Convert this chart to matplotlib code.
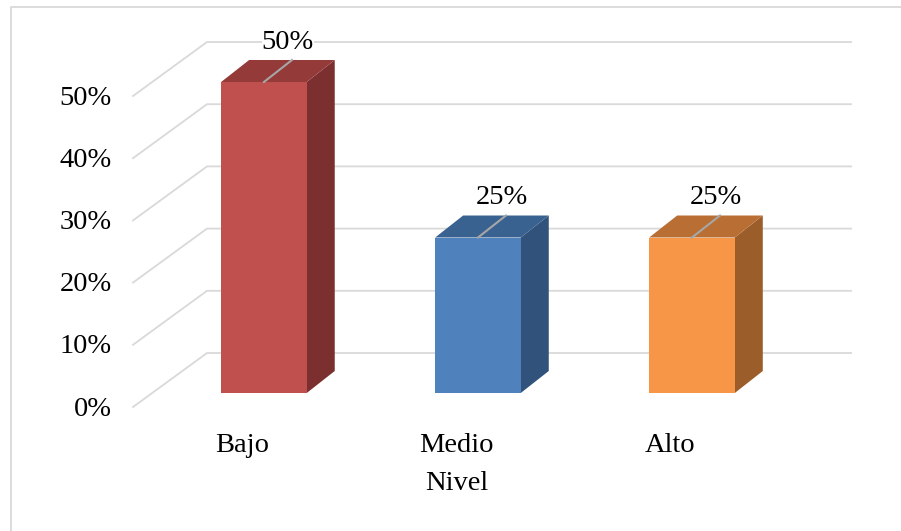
import matplotlib.pyplot as plt
import matplotlib.transforms as mtransforms
from matplotlib.patches import Polygon

# datos
categorias = ["Bajo", "Medio", "Alto"]
valores = [0.50, 0.25, 0.25]
ticks = [0.0, 0.1, 0.2, 0.3, 0.4, 0.5]
etiquetas_y = ["0%", "10%", "20%", "30%", "40%", "50%"]
etiquetas_barras = ["50%", "25%", "25%"]

frente = ["#c0504d", "#4f81bd", "#f79646"]
arriba = ["#943a38", "#3a6291", "#b96f34"]
lado = ["#7b302f", "#31527a", "#9b5d2a"]

plt.rcParams['font.family'] = ['Liberation Serif', 'DejaVu Serif']
fs = 20.5

W, H = 901, 531
fig = plt.figure(figsize=(W / 100, H / 100), dpi=100)

# plano frontal de las barras (en pixeles de la imagen)
left, right, bottom, top = 152, 796, 393, 82
ax = fig.add_axes([left / W, (H - bottom) / H, (right - left) / W, (bottom - top) / H])
ax.set_xlim(-0.523, 2.486)
ax.set_ylim(0, 0.5)
ax.axis("off")

xmin, xmax = ax.get_xlim()


def off(dx, dy):
    # desplazamiento en pixeles (dy hacia arriba)
    return mtransforms.offset_copy(ax.transData, fig=fig, x=dx, y=dy, units='dots')


t_front = off(-19, -14)
t_back = off(55, 40)

# rejilla: diagonal del suelo/pared + linea horizontal en la pared trasera
for v in ticks:
    p0 = t_front.transform((xmin, v))
    p1 = t_back.transform((xmin, v))
    p2 = t_back.transform((xmax, v))
    fig.add_artist(plt.Line2D([p0[0] / W, p1[0] / W, p2[0] / W],
                              [p0[1] / H, p1[1] / H, p2[1] / H],
                              color="#d9d9d9", lw=1.3, zorder=-1))

for v, lab in zip(ticks, etiquetas_y):
    ax.text(xmin, v, lab, transform=off(-40, -16), ha="right", va="center",
            fontsize=fs, clip_on=False)

# barras pseudo-3D
bw = 0.2
ddx, ddy = 28, 22
inv = ax.transData.inverted()


def depth(x, y):
    px, py = ax.transData.transform((x, y))
    return tuple(inv.transform((px + ddx, py + ddy)))


for i, v in enumerate(valores):
    x0, x1 = i - bw, i + bw
    cara = [(x0, 0), (x1, 0), (x1, v), (x0, v)]
    tapa = [(x0, v), (x1, v), depth(x1, v), depth(x0, v)]
    costado = [(x1, 0), depth(x1, 0), depth(x1, v), (x1, v)]
    ax.add_patch(Polygon(costado, closed=True, fc=lado[i], ec="none", clip_on=False))
    ax.add_patch(Polygon(tapa, closed=True, fc=arriba[i], ec="none", clip_on=False))
    ax.add_patch(Polygon(cara, closed=True, fc=frente[i], ec="none", clip_on=False))

    # linea guia y etiqueta de datos
    ax.plot([i, depth(i, v)[0]], [v, depth(i, v)[1]], color="#a6a6a6",
            lw=1.5, zorder=5, clip_on=False)
    ax.text(i, v, etiquetas_barras[i], transform=off(24, 40), ha="center",
            va="center", fontsize=fs, clip_on=False, zorder=4,
            bbox=dict(fc="white", ec="none", pad=0))

    ax.text(i, 0, categorias[i], transform=off(-22, -52), ha="center",
            va="center", fontsize=fs, clip_on=False)

ax.set_xlim(xmin, xmax)
ax.set_ylim(0, 0.5)

fig.text(457 / W, (H - 483) / H, "Nivel", ha="center", va="center", fontsize=fs)

# borde del area del grafico (solo visible arriba e izquierda)
fig.add_artist(plt.Line2D([11 / W, 11 / W, 1.01], [-0.01, (H - 7) / H, (H - 7) / H],
                          color="#d9d9d9", lw=1.3, zorder=-1))

fig.savefig("out.png", dpi=100)
